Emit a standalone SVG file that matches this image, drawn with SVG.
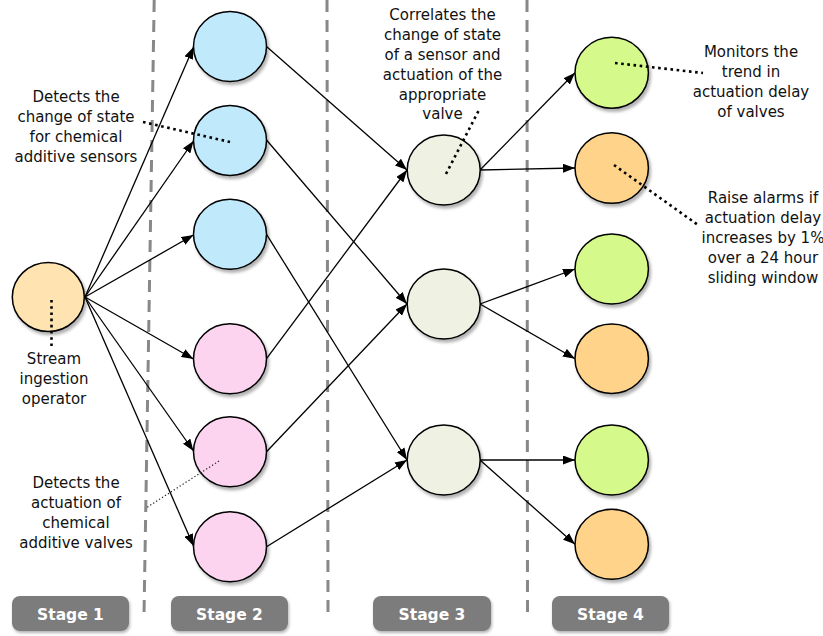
<svg xmlns="http://www.w3.org/2000/svg" width="823" height="636" viewBox="0 0 823 636">
<style>
  .node { stroke: #000; stroke-width: 1.5; filter: url(#sh); }
  .blue { fill: #c0eafc; }
  .pink { fill: #fdd4f0; }
  .beige { fill: #eff1e3; }
  .green { fill: #d5f98a; }
  .orange { fill: #ffd38a; }
  .yellow { fill: #ffe4b2; }
  .edge { stroke: #000; stroke-width: 1.3; fill: none; marker-end: url(#arr); }
  .sep { stroke: #888; stroke-width: 3; stroke-dasharray: 12 8; fill: none; }
  .lead { stroke: #000; stroke-width: 2.6; stroke-dasharray: 2.6 3.6; fill: none; }
  .thin { stroke: #222; stroke-width: 1.2; stroke-dasharray: 1.3 2.2; fill: none; }
  .lbl { font-family: "DejaVu Sans", "Liberation Sans", sans-serif; font-size: 15px; fill: #111; text-anchor: middle; }
  .stage rect { fill: #7b7b7b; filter: url(#sh2); }
  .stage text { font-family: "DejaVu Sans", "Liberation Sans", sans-serif; font-weight: bold; font-size: 15.5px; fill: #fff; text-anchor: middle; }
</style>
<defs>
  <filter id="sh" x="-20%" y="-20%" width="150%" height="150%">
    <feDropShadow dx="2" dy="3" stdDeviation="1.8" flood-color="#000" flood-opacity="0.3"/>
  </filter>
  <filter id="sh2" x="-10%" y="-20%" width="130%" height="160%">
    <feDropShadow dx="1" dy="2" stdDeviation="1.5" flood-color="#000" flood-opacity="0.3"/>
  </filter>
  <marker id="arr" viewBox="0 0 12 9" refX="12" refY="4.5" markerWidth="12" markerHeight="9" markerUnits="userSpaceOnUse" orient="auto">
    <path d="M0,0 L12,4.5 L0,9 z" fill="#000"/>
  </marker>
</defs>
<rect width="823" height="636" fill="#fff"/>

<g id="separators">
  <line class="sep" x1="154.2" y1="0" x2="144" y2="615"/>
  <line class="sep" x1="327" y1="0" x2="328" y2="612"/>
  <line class="sep" x1="527" y1="0" x2="527.5" y2="612"/>
</g>

<g id="connectors">
  <line class="edge" x1="85" y1="297" x2="193.5" y2="47"/>
  <line class="edge" x1="85" y1="297" x2="193.5" y2="141"/>
  <line class="edge" x1="85" y1="297" x2="193.5" y2="235"/>
  <line class="edge" x1="85" y1="297" x2="193.5" y2="359"/>
  <line class="edge" x1="85" y1="297" x2="193.5" y2="451"/>
  <line class="edge" x1="85" y1="297" x2="193.5" y2="546"/>

  <line class="edge" x1="266.5" y1="46.5" x2="407" y2="170"/>
  <line class="edge" x1="266.5" y1="140" x2="407" y2="304"/>
  <line class="edge" x1="266.5" y1="234.3" x2="407" y2="460"/>
  <line class="edge" x1="266.5" y1="358.7" x2="407" y2="170"/>
  <line class="edge" x1="266.5" y1="451.7" x2="407" y2="304"/>
  <line class="edge" x1="266.5" y1="546.7" x2="407" y2="460"/>

  <line class="edge" x1="480" y1="170" x2="575" y2="72.8"/>
  <line class="edge" x1="480" y1="170" x2="575" y2="168"/>
  <line class="edge" x1="480" y1="304" x2="575" y2="269"/>
  <line class="edge" x1="480" y1="304" x2="575" y2="358.7"/>
  <line class="edge" x1="480" y1="460" x2="575" y2="460"/>
  <line class="edge" x1="480" y1="460" x2="575" y2="544.3"/>
</g>

<g id="n-ingest"><ellipse class="node yellow" cx="48.3" cy="297" rx="36" ry="34.5"/></g>

<g id="n-s2-1"><ellipse class="node blue" cx="230" cy="46.5" rx="36.5" ry="35"/></g>
<g id="n-s2-2"><ellipse class="node blue" cx="230" cy="140.4" rx="36.5" ry="35"/></g>
<g id="n-s2-3"><ellipse class="node blue" cx="230" cy="234.3" rx="36.5" ry="35"/></g>
<g id="n-s2-4"><ellipse class="node pink" cx="230" cy="358.7" rx="36.5" ry="35"/></g>
<g id="n-s2-5"><ellipse class="node pink" cx="230" cy="451.7" rx="36.5" ry="35"/></g>
<g id="n-s2-6"><ellipse class="node pink" cx="230" cy="546.7" rx="36.5" ry="35"/></g>

<g id="n-s3-1"><ellipse class="node beige" cx="443.7" cy="170" rx="36.5" ry="35"/></g>
<g id="n-s3-2"><ellipse class="node beige" cx="443.7" cy="304" rx="36.5" ry="35"/></g>
<g id="n-s3-3"><ellipse class="node beige" cx="443.7" cy="460" rx="36.5" ry="35"/></g>

<g id="n-s4-1"><ellipse class="node green" cx="611.7" cy="72.8" rx="36.7" ry="35.5"/></g>
<g id="n-s4-2"><ellipse class="node orange" cx="611.7" cy="168" rx="36.7" ry="35.3"/></g>
<g id="n-s4-3"><ellipse class="node green" cx="611.7" cy="269" rx="36.7" ry="35"/></g>
<g id="n-s4-4"><ellipse class="node orange" cx="611.7" cy="358.7" rx="36.7" ry="34.7"/></g>
<g id="n-s4-5"><ellipse class="node green" cx="611.7" cy="460" rx="36.7" ry="35"/></g>
<g id="n-s4-6"><ellipse class="node orange" cx="611.7" cy="544.3" rx="36.7" ry="35"/></g>

<g id="leaders">
  <line class="lead" x1="143" y1="122" x2="230" y2="142"/>
  <line class="lead" x1="51.5" y1="300" x2="51.5" y2="348"/>
  <line class="thin" x1="219" y1="461" x2="146" y2="508"/>
  <line class="lead" x1="446" y1="174" x2="480" y2="108"/>
  <line class="lead" x1="615" y1="63" x2="703" y2="73"/>
  <line class="lead" x1="614" y1="165" x2="698" y2="225"/>
</g>

<g id="annotations">
  <text class="lbl" x="76" y="102">Detects the</text>
  <text class="lbl" x="76" y="122">change of state</text>
  <text class="lbl" x="76" y="142">for chemical</text>
  <text class="lbl" x="76" y="162">additive sensors</text>

  <text class="lbl" x="54" y="364">Stream</text>
  <text class="lbl" x="54" y="384">ingestion</text>
  <text class="lbl" x="54" y="404">operator</text>

  <text class="lbl" x="76" y="488">Detects the</text>
  <text class="lbl" x="76" y="508">actuation of</text>
  <text class="lbl" x="76" y="528">chemical</text>
  <text class="lbl" x="76" y="548">additive valves</text>

  <text class="lbl" x="442.5" y="20">Correlates the</text>
  <text class="lbl" x="442.5" y="40">change of state</text>
  <text class="lbl" x="442.5" y="60">of a sensor and</text>
  <text class="lbl" x="442.5" y="80">actuation of the</text>
  <text class="lbl" x="442.5" y="99.5">appropriate</text>
  <text class="lbl" x="442.5" y="119">valve</text>

  <text class="lbl" x="751" y="57">Monitors the</text>
  <text class="lbl" x="751" y="77">trend in</text>
  <text class="lbl" x="751" y="97">actuation delay</text>
  <text class="lbl" x="751" y="117">of valves</text>

  <text class="lbl" x="763" y="203">Raise alarms if</text>
  <text class="lbl" x="763" y="223">actuation delay</text>
  <text class="lbl" x="763" y="243">increases by 1%</text>
  <text class="lbl" x="763" y="263">over a 24 hour</text>
  <text class="lbl" x="763" y="283">sliding window</text>
</g>

<g id="stage-1" class="stage"><rect x="12" y="596" width="117" height="35" rx="8"/><text x="70.5" y="620">Stage 1</text></g>
<g id="stage-2" class="stage"><rect x="171" y="596" width="117" height="35" rx="8"/><text x="229.5" y="620">Stage 2</text></g>
<g id="stage-3" class="stage"><rect x="373" y="596" width="118" height="35" rx="8"/><text x="432" y="620">Stage 3</text></g>
<g id="stage-4" class="stage"><rect x="552" y="596" width="117" height="35" rx="8"/><text x="610.5" y="620">Stage 4</text></g>
</svg>
